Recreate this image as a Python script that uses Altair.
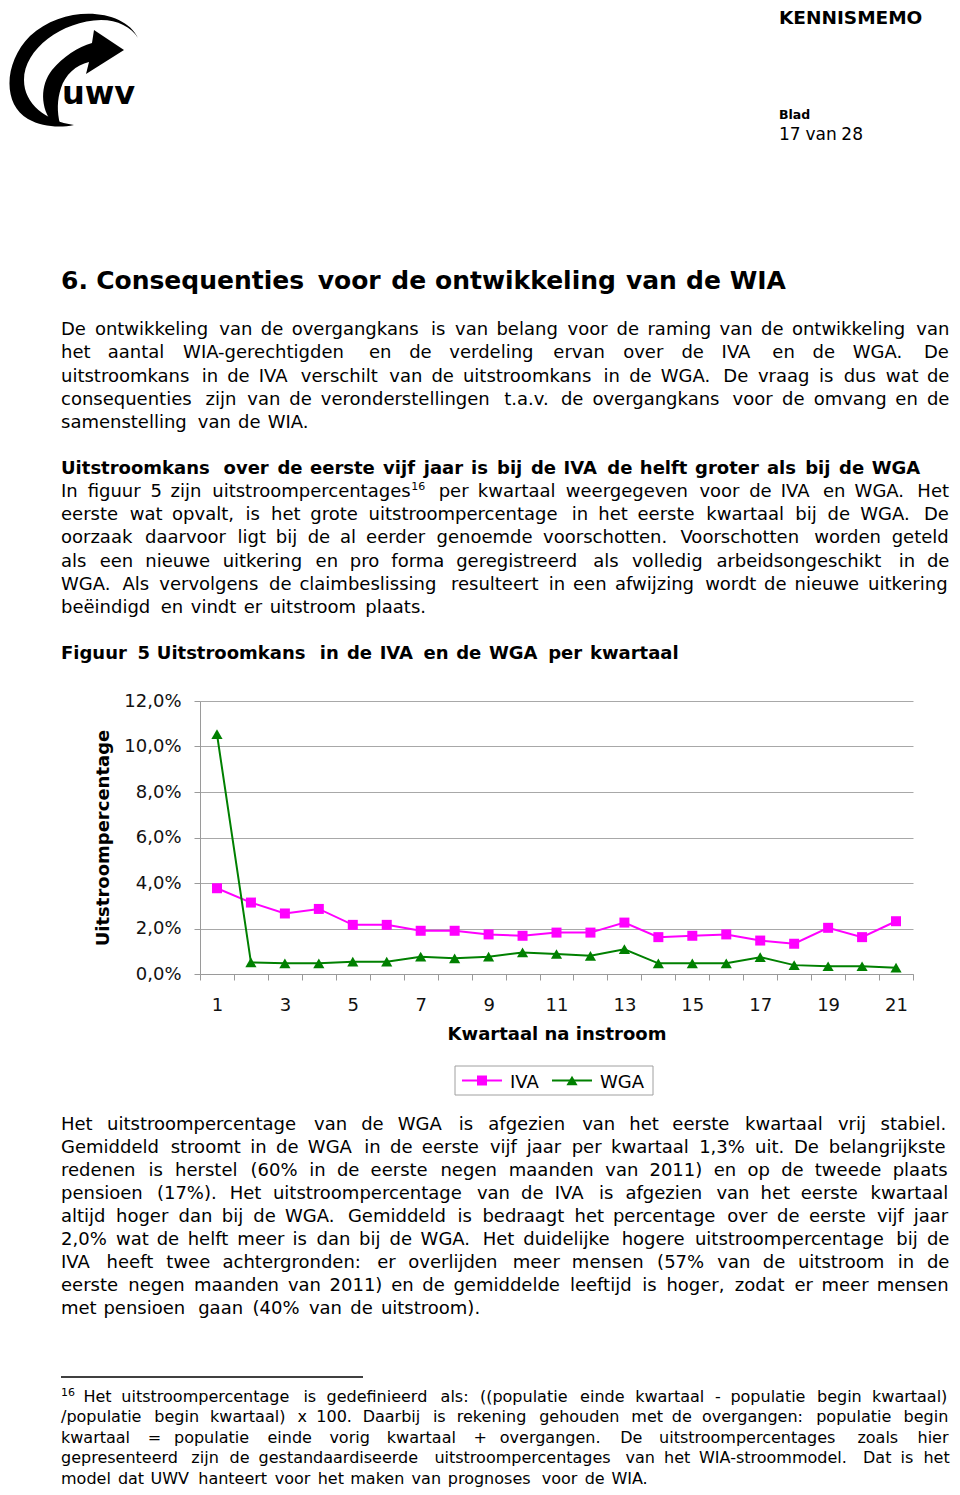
import altair as alt
import pandas as pd

# ---------------- chart data ----------------
quarters = list(range(1, 22))
iva_values = [3.77, 3.14, 2.66, 2.86, 2.16, 2.16, 1.90, 1.90, 1.74, 1.68, 1.82,
              1.82, 2.26, 1.62, 1.68, 1.74, 1.47, 1.33, 2.03, 1.62, 2.32]
wga_values = [10.54, 0.51, 0.47, 0.47, 0.54, 0.54, 0.76, 0.69, 0.76, 0.95, 0.88,
              0.80, 1.09, 0.47, 0.47, 0.47, 0.74, 0.39, 0.34, 0.34, 0.28]
series_names = ["IVA", "WGA"]
series_colors = ["#ff00ff", "#008000"]
series_shapes = ["square", "triangle-up"]
series_sizes = [100, 125]
y_ticks = [0, 2, 4, 6, 8, 10, 12]

x_title = "Kwartaal na instroom"
y_title = "Uitstroompercentage"

# ---------------- page text ----------------
header_title = "KENNISMEMO"
header_blad = "Blad"
header_page = "17 van 28"
logo_text = "uwv"
heading = "6. Consequenties voor de ontwikkeling van de WIA"
para1 = [
    "De ontwikkeling van de overgangkans is van belang voor de raming van de ontwikkeling van",
    "het aantal WIA-gerechtigden en de verdeling ervan over de IVA en de WGA. De",
    "uitstroomkans in de IVA verschilt van de uitstroomkans in de WGA. De vraag is dus wat de",
    "consequenties zijn van de veronderstellingen t.a.v. de overgangkans voor de omvang en de",
    "samenstelling van de WIA.",
]
subheading = "Uitstroomkans over de eerste vijf jaar is bij de IVA de helft groter als bij de WGA"
para2 = [
    "In figuur 5 zijn uitstroompercentages^16 per kwartaal weergegeven voor de IVA en WGA. Het",
    "eerste wat opvalt, is het grote uitstroompercentage in het eerste kwartaal bij de WGA. De",
    "oorzaak daarvoor ligt bij de al eerder genoemde voorschotten. Voorschotten worden geteld",
    "als een nieuwe uitkering en pro forma geregistreerd als volledig arbeidsongeschikt in de",
    "WGA. Als vervolgens de claimbeslissing resulteert in een afwijzing wordt de nieuwe uitkering",
    "beëindigd en vindt er uitstroom plaats.",
]
figure_title = "Figuur 5 Uitstroomkans in de IVA en de WGA per kwartaal"
para3 = [
    "Het uitstroompercentage van de WGA is afgezien van het eerste kwartaal vrij stabiel.",
    "Gemiddeld stroomt in de WGA in de eerste vijf jaar per kwartaal 1,3% uit. De belangrijkste",
    "redenen is herstel (60% in de eerste negen maanden van 2011) en op de tweede plaats",
    "pensioen (17%). Het uitstroompercentage van de IVA is afgezien van het eerste kwartaal",
    "altijd hoger dan bij de WGA. Gemiddeld is bedraagt het percentage over de eerste vijf jaar",
    "2,0% wat de helft meer is dan bij de WGA. Het duidelijke hogere uitstroompercentage bij de",
    "IVA heeft twee achtergronden: er overlijden meer mensen (57% van de uitstroom in de",
    "eerste negen maanden van 2011) en de gemiddelde leeftijd is hoger, zodat er meer mensen",
    "met pensioen gaan (40% van de uitstroom).",
]
footnote = [
    "^16 Het uitstroompercentage is gedefinieerd als: ((populatie einde kwartaal - populatie begin kwartaal)",
    "/populatie begin kwartaal) x 100. Daarbij is rekening gehouden met de overgangen: populatie begin",
    "kwartaal = populatie einde vorig kwartaal + overgangen. De uitstroompercentages zoals hier",
    "gepresenteerd zijn de gestandaardiseerde uitstroompercentages van het WIA-stroommodel. Dat is het",
    "model dat UWV hanteert voor het maken van prognoses voor de WIA.",
]

FONT = "DejaVu Sans"

# ---------------- layout helpers ----------------
PLOT_LEFT, PLOT_TOP = 200, 701      # page position of plot origin
PLOT_W, PLOT_H = 713, 273
SVG_W, SVG_H = 944, 1479
MARGIN = 8
TEXT_LEFT, TEXT_RIGHT = 61, 950


def rx(x):
    return x - PLOT_LEFT


def ry(y):
    return y - PLOT_TOP


# Helvetica metrics (1/1000 em), used to place words like the justified original
_chars = list(" .,:;()%-/=+!?'") + [str(d) for d in range(10)]
_reg = [278, 278, 278, 278, 278, 333, 333, 889, 333, 278, 584, 584, 278, 556, 191] + [556] * 10
_bold = [278, 278, 278, 333, 333, 333, 333, 889, 333, 278, 584, 584, 333, 611, 238] + [556] * 10
_upper = "ABCDEFGHIJKLMNOPQRSTUVWXYZ"
_upper_reg = [667, 667, 722, 722, 667, 611, 778, 722, 278, 500, 667, 556, 833, 722, 778, 667, 778,
              722, 667, 611, 722, 667, 944, 667, 667, 611]
_upper_bold = [722, 722, 722, 722, 667, 611, 778, 722, 278, 556, 722, 611, 833, 722, 778, 667, 778,
               722, 667, 611, 722, 667, 944, 667, 667, 611]
_lower = "abcdefghijklmnopqrstuvwxyz"
_lower_reg = [556, 556, 500, 556, 556, 278, 556, 556, 222, 222, 500, 222, 833, 556, 556, 556, 556,
              333, 500, 278, 556, 500, 722, 500, 500, 500]
_lower_bold = [556, 611, 556, 611, 556, 333, 611, 611, 278, 278, 556, 278, 889, 611, 611, 611, 611,
               389, 556, 333, 611, 556, 778, 556, 556, 500]
W_REG = dict(zip(_chars + list(_upper) + list(_lower), _reg + _upper_reg + _lower_reg))
W_BOLD = dict(zip(_chars + list(_upper) + list(_lower), _bold + _upper_bold + _lower_bold))


def tw(s, size, spacing, bold=False):
    table = W_BOLD if bold else W_REG
    return sum(table.get(c, 556) * size / 1000.0 + spacing for c in s)


def place_line(line, left, baseline, size, spacing, bold=False, right=None,
               justify=False, sup_size=11):
    words = []
    for tk in line.split(" "):
        main, sup = (tk.split("^") + [""])[:2] if "^" in tk else (tk, "")
        w = tw(main, size, spacing, bold) + (tw(sup, sup_size, 0.8, bold) if sup else 0)
        words.append((main, sup, w))
    if justify and len(words) > 1:
        gap = (right - left - sum(w for _, _, w in words)) / (len(words) - 1)
        scale = 1.0
    else:
        gap = W_REG[" "] * size / 1000.0 + spacing
        natural = sum(w for _, _, w in words) + gap * (len(words) - 1)
        scale = (right - left) / natural if right else 1.0
    out = []
    x = left
    for main, sup, w in words:
        if main:
            out.append(dict(x=rx(x), y=ry(baseline), t=main, s=size, bold=bold))
        if sup:
            sx = x + (tw(main, size, spacing, bold) * scale * 0.97 + 1 if main else 0)
            out.append(dict(x=rx(sx), y=ry(baseline - size * 0.4), t=sup, s=sup_size, bold=bold))
        x += (w + gap) * scale
    return out


def place_paragraph(lines, left, right, baseline0, step, size, spacing, last_right, bold=False):
    out = []
    for i, ln in enumerate(lines):
        last = i == len(lines) - 1
        out += place_line(ln, left, baseline0 + i * step, size, spacing, bold,
                          right=last_right if last else right, justify=not last)
    return out


items = []
items += place_line(header_title, 779, 23.5, 18.5, 1.3, True, right=925)
items += place_line(header_blad, 779, 119, 12.5, 0.8, True, right=808)
items += place_line(header_page, 779, 140, 17, 1.4, False, right=862)
items += place_line(heading, TEXT_LEFT, 288.5, 25, 2.2, True, right=786)
items += place_paragraph(para1, TEXT_LEFT, TEXT_RIGHT, 335, 23.3, 18, 1.55, 313)
items += place_line(subheading, TEXT_LEFT, 474, 18, 1.2, True, right=924)
items += place_paragraph(para2, TEXT_LEFT, TEXT_RIGHT, 497, 23.2, 18, 1.55, 430)
items += place_line(figure_title, TEXT_LEFT, 659, 18, 1.2, True, right=680)
items += place_paragraph(para3, TEXT_LEFT, TEXT_RIGHT, 1130, 23.0, 18, 1.55, 486)
items += place_paragraph(footnote, TEXT_LEFT, TEXT_RIGHT, 1402, 20.4, 16, 1.45, 652)
text_df = pd.DataFrame(items)

# ---------------- data chart ----------------
df = pd.DataFrame({
    "Kwartaal": quarters * 2,
    "Serie": [series_names[0]] * len(quarters) + [series_names[1]] * len(quarters),
    "Uitstroompercentage": iva_values + wga_values,
})

x_enc = alt.X(
    "Kwartaal:O",
    bandPosition=0.5,
    scale=alt.Scale(type="band", paddingInner=0, paddingOuter=0),
    axis=alt.Axis(
        title=x_title, labelExpr="datum.value % 2 == 1 ? datum.label : ''",
        labelAngle=0, labelOverlap=False, tickBand="extent", tickSize=6,
        tickColor="#9a9a9a", domainColor="#9a9a9a", labelFont=FONT, labelFontSize=18,
        labelColor="#111111", labelPadding=16, titleFont=FONT, titleFontSize=18,
        titleFontWeight="bold", titleColor="#000000", titlePadding=11, grid=False,
    ),
)
y_enc = alt.Y(
    "Uitstroompercentage:Q",
    scale=alt.Scale(domain=[0, 12], nice=False, zero=True),
    axis=alt.Axis(
        values=y_ticks, labelExpr="replace(format(datum.value, '.1f'), '.', ',') + '%'",
        title=y_title, grid=True, gridColor="#a8a8a8", tickSize=6, tickColor="#9a9a9a",
        domainColor="#9a9a9a", labelFont=FONT, labelFontSize=18, labelColor="#111111",
        labelPadding=13, titleFont=FONT, titleFontSize=18, titleFontWeight="bold",
        titleColor="#000000", titlePadding=11,
    ),
)
color_enc = alt.Color("Serie:N", scale=alt.Scale(domain=series_names, range=series_colors), legend=None)

lines = alt.Chart(df).mark_line(strokeWidth=2).encode(x=x_enc, y=y_enc, color=color_enc)
points = alt.Chart(df).mark_point(filled=True, opacity=1).encode(
    x=x_enc, y=y_enc, color=color_enc,
    shape=alt.Shape("Serie:N", scale=alt.Scale(domain=series_names, range=series_shapes), legend=None),
    size=alt.Size("Serie:N", scale=alt.Scale(domain=series_names, range=series_sizes), legend=None),
)
data_chart = alt.layer(lines, points)

# ---------------- custom legend ----------------
LEG_X0, LEG_X1, LEG_Y0, LEG_Y1 = 455, 653, 1066, 1095
leg_mid = (LEG_Y0 + LEG_Y1) / 2
item_x = [462, 552]
legend_df = pd.DataFrame({
    "name": series_names,
    "color": series_colors,
    "shape": series_shapes,
    "size": series_sizes,
    "x1": [rx(v) for v in item_x],
    "x2": [rx(v + 40) for v in item_x],
    "xm": [rx(v + 20) for v in item_x],
    "xt": [rx(v + 48) for v in item_x],
    "y": [ry(leg_mid)] * 2,
    "yt": [ry(leg_mid + 7)] * 2,
})
box_df = pd.DataFrame({"x1": [rx(LEG_X0)], "x2": [rx(LEG_X1)], "y1": [ry(LEG_Y0)], "y2": [ry(LEG_Y1)]})

legend_box = alt.Chart(box_df).mark_rect(fill="white", stroke="#a0a0a0", strokeWidth=1).encode(
    x=alt.X("x1:Q", scale=None, axis=None), x2="x2:Q",
    y=alt.Y("y1:Q", scale=None, axis=None), y2="y2:Q",
)
legend_lines = alt.Chart(legend_df).mark_rule(strokeWidth=2).encode(
    x=alt.X("x1:Q", scale=None, axis=None), x2="x2:Q",
    y=alt.Y("y:Q", scale=None, axis=None),
    color=alt.Color("color:N", scale=None),
)
legend_marks = alt.Chart(legend_df).mark_point(filled=True, opacity=1).encode(
    x=alt.X("xm:Q", scale=None, axis=None), y=alt.Y("y:Q", scale=None, axis=None),
    color=alt.Color("color:N", scale=None), shape=alt.Shape("shape:N", scale=None),
    size=alt.Size("size:Q", scale=None),
)
legend_text = alt.Chart(legend_df).mark_text(
    align="left", baseline="alphabetic", font=FONT, fontSize=18, color="#000000"
).encode(
    x=alt.X("xt:Q", scale=None, axis=None), y=alt.Y("yt:Q", scale=None, axis=None), text="name:N"
)

# footnote separator
sep_df = pd.DataFrame({"x1": [rx(61)], "x2": [rx(363)], "y": [ry(1377)]})
separator = alt.Chart(sep_df).mark_rule(strokeWidth=1.3, color="#000000").encode(
    x=alt.X("x1:Q", scale=None, axis=None), x2="x2:Q", y=alt.Y("y:Q", scale=None, axis=None)
)

# ---------------- page text layers ----------------
reg_text = alt.Chart(text_df[~text_df["bold"]]).mark_text(
    align="left", baseline="alphabetic", font=FONT, color="#000000"
).encode(
    x=alt.X("x:Q", scale=None, axis=None), y=alt.Y("y:Q", scale=None, axis=None),
    text="t:N", size=alt.Size("s:Q", scale=None),
)
bold_text = alt.Chart(text_df[text_df["bold"]]).mark_text(
    align="left", baseline="alphabetic", font=FONT, fontWeight="bold", color="#000000"
).encode(
    x=alt.X("x:Q", scale=None, axis=None), y=alt.Y("y:Q", scale=None, axis=None),
    text="t:N", size=alt.Size("s:Q", scale=None),
)

# ---------------- logo ----------------
LOGO_CX, LOGO_CY, LOGO_R = 72, 70, 70


def logo_path(pts_cmds):
    parts = []
    for cmd, pts in pts_cmds:
        coords = " ".join(f"{(px - LOGO_CX) / LOGO_R:.4f},{(py - LOGO_CY) / LOGO_R:.4f}" for px, py in pts)
        parts.append(f"{cmd}{coords}")
    return "".join(parts) + "Z"


outer = logo_path([
    ("M", [(138, 38)]),
    ("C", [(124, 8), (64, 4), (30, 36)]),
    ("C", [(4, 62), (2, 104), (28, 119)]),
    ("C", [(42, 127), (60, 128), (74, 125)]),
    ("C", [(46, 121), (24, 104), (24, 80)]),
    ("C", [(24, 49), (62, 21), (101, 20)]),
    ("C", [(118, 20), (131, 27), (138, 38)]),
])
inner = logo_path([
    ("M", [(53, 124)]),
    ("C", [(40, 108), (40, 85), (52, 70)]),
    ("C", [(63, 57), (78, 47), (92, 43)]),
    ("L", [(94, 30)]),
    ("L", [(124, 50)]),
    ("L", [(86, 74)]),
    ("L", [(89, 62)]),
    ("C", [(76, 65), (65, 75), (61, 88)]),
    ("C", [(57, 100), (57, 112), (60, 124)]),
])
logo_df = pd.DataFrame({"x": [rx(LOGO_CX)] * 2, "y": [ry(LOGO_CY)] * 2, "shape": [outer, inner]})
logo_shapes = alt.Chart(logo_df).mark_point(
    filled=True, opacity=1, color="#000000", size=(2 * LOGO_R) ** 2, strokeWidth=0
).encode(
    x=alt.X("x:Q", scale=None, axis=None), y=alt.Y("y:Q", scale=None, axis=None),
    shape=alt.Shape("shape:N", scale=None),
)
logo_word = alt.Chart(pd.DataFrame({"x": [rx(62)], "y": [ry(104)], "t": [logo_text]})).mark_text(
    align="left", baseline="alphabetic", font=FONT, fontWeight="bold", fontSize=32, color="#000000"
).encode(
    x=alt.X("x:Q", scale=None, axis=None), y=alt.Y("y:Q", scale=None, axis=None), text="t:N"
)

chart = alt.layer(
    data_chart, legend_box, legend_lines, legend_marks, legend_text, separator,
    reg_text, bold_text, logo_shapes, logo_word,
).resolve_scale(
    x="independent", y="independent", color="independent", shape="independent", size="independent"
).properties(
    width=PLOT_W, height=PLOT_H,
    autosize=alt.AutoSizeParams(type="none"),
    padding={"left": PLOT_LEFT - MARGIN, "top": PLOT_TOP - MARGIN,
             "right": SVG_W - (PLOT_LEFT - MARGIN) - PLOT_W,
             "bottom": SVG_H - (PLOT_TOP - MARGIN) - PLOT_H},
    background="white",
).configure_view(stroke=None)

chart.save("out.html", embed_options={"renderer": "svg", "actions": False})
